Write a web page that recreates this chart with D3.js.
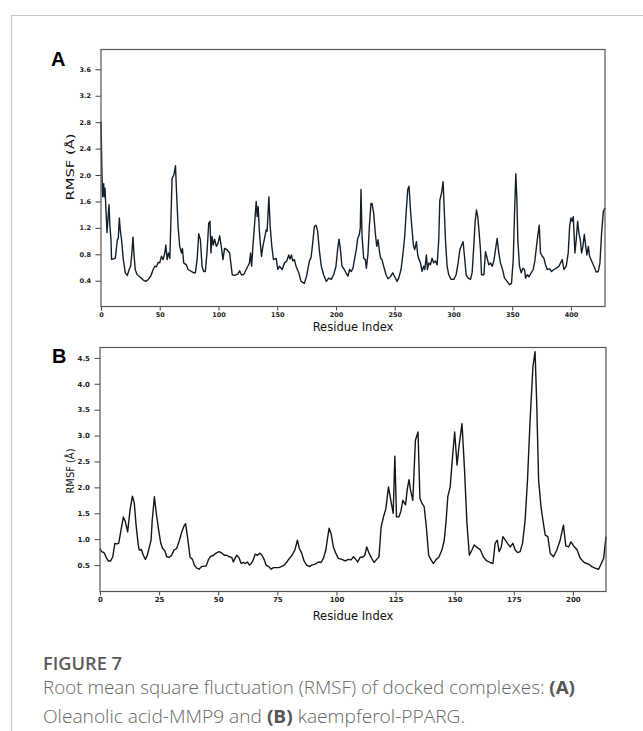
<!DOCTYPE html>
<html lang="en">
<head>
  <meta charset="utf-8">
  <script src="https://d3js.org/d3.v7.min.js"></script>
  <style>
    body { margin: 0; background: #fff; }
    svg { display: block; }
  </style>
</head>
<body>
<script>
  // RMSF traces

  // panel A: Oleanolic acid-MMP9
  const aResidue = [0,0.8,1.4,2.3,2.8,3.4,4.5,5.1,5.9,6.8,7.6,8.5,9,10.5,12.2,13.9,14.7,15.6,16.4,17.5,19,20.7,22.3,24,25.2,26.3,27.2,28,29.1,30.8,33,36,38.2,40.2,42.4,44.4,45.8,47.2,48.7,50,51.5,52.9,54.3,55.2,56.3,57.4,58.6,60.5,62,63.4,64.2,65.6,67,68.5,69.3,70.4,72.7,74.1,76.9,78.9,80.3,81.8,83.2,84.6,86,87.4,88.8,90.2,91.7,92.8,93.6,94.5,95.6,96.7,98.2,99.6,101,102.4,103.8,105.2,107.2,109.5,111.7,113.7,116.5,118,119.4,121.4,123.6,125,126.4,127.3,128.2,129.3,130.7,132.1,133,133.8,134.9,136.6,137.8,139.2,140.6,141.4,142.9,144,145.4,146.8,149.1,150.5,151.9,154.2,156.2,158.1,159.8,160.9,162.1,163.2,164.6,166,168.3,170.3,173.1,175.1,177.4,178.8,180.2,181.6,183,184.4,185.8,187.5,189.5,191.8,193.8,196,198,200,201.4,202.6,203.7,205.1,207.1,208.5,210.2,211.6,213.1,214.5,215.9,217.3,218.5,219.9,220.7,221.3,222.2,223.6,225,225.9,227.3,228.4,229.8,230.7,232.1,233.5,234.7,235.8,237.2,238.1,239.2,240.6,242.6,244.3,246.3,248.3,250,252,253.4,255.4,257.1,258.5,259.9,261.1,262.2,263.4,264.8,265.9,267,268.5,269.6,270.7,271.9,273.3,274.7,275.6,277,277.8,279,280.4,281.8,283.2,284.7,286.1,287.5,288.4,289.8,291.2,292.3,293.2,294.6,296,298,300.3,302.3,304,305.4,306.8,308.2,309.4,310.8,312.5,314.5,315.9,317.3,318.5,319.6,320.7,321.9,323,323.9,325.9,327.3,328.7,330.1,331.5,333,334.4,335.8,337.2,338.6,340,341.5,343.5,345.7,347.7,349.4,350.9,352,353.1,354,354.8,356.2,357.7,359.1,360.5,361.4,362.8,364.2,366.2,367.9,369.3,370.7,371.9,373,374.1,375.6,377,378.4,379.8,381.8,383.5,385.5,387.5,389.8,391.2,392.6,394,396,397.7,398.9,400,401.1,402,403.4,404.5,405.7,406.8,408,409.1,410.2,411.4,412.5,413.6,414.8,415.9,417.6,419.6,421.6,423.3,424.7,426.1,427.6,429];
  const aRmsf = [2.81,2.03,1.67,1.87,1.67,1.80,1.37,1.13,1.32,1.55,1.22,1.02,0.72,0.73,0.74,1.02,1.04,1.35,1.17,1.02,0.72,0.52,0.48,0.57,0.62,0.82,1.06,0.82,0.57,0.49,0.46,0.41,0.39,0.42,0.47,0.57,0.62,0.61,0.68,0.67,0.77,0.72,0.82,0.94,0.72,0.82,0.74,1.95,2.00,2.14,1.78,1.22,0.92,0.82,0.89,0.67,0.64,0.57,0.54,0.52,0.52,0.72,1.11,1.02,0.62,0.54,0.54,0.82,1.27,1.30,0.82,1.07,0.94,1.03,0.92,0.97,1.08,0.92,0.72,0.89,0.87,0.82,0.49,0.48,0.50,0.55,0.49,0.49,0.57,0.62,0.67,0.82,0.62,0.92,1.25,1.60,1.37,1.52,1.12,0.77,0.92,1.04,1.17,1.15,1.67,1.22,0.92,0.72,0.74,0.57,0.62,0.57,0.67,0.70,0.79,0.73,0.79,0.70,0.72,0.62,0.52,0.39,0.36,0.48,0.70,0.75,0.97,1.22,1.24,1.15,0.87,0.62,0.49,0.39,0.44,0.42,0.49,0.62,0.87,1.03,0.89,0.62,0.57,0.52,0.47,0.57,0.54,0.59,0.74,0.87,1.04,1.10,1.20,1.78,1.07,0.74,0.72,0.59,0.82,1.22,1.57,1.57,1.42,1.12,0.92,1.02,0.82,0.74,0.72,0.62,0.49,0.43,0.46,0.52,0.46,0.39,0.44,0.57,0.82,1.07,1.47,1.78,1.83,1.47,1.17,0.94,0.87,0.99,0.79,0.72,0.67,0.54,0.62,0.57,0.79,0.57,0.67,0.64,0.74,0.67,0.70,0.64,1.02,1.62,1.72,1.90,1.42,1.02,0.62,0.49,0.42,0.42,0.49,0.67,0.87,0.93,0.99,0.77,0.49,0.44,0.42,0.52,0.92,1.30,1.47,1.37,1.12,0.87,0.49,0.49,0.84,0.74,0.64,0.67,0.62,0.70,0.87,1.04,0.82,0.67,0.59,0.44,0.39,0.34,0.36,0.72,1.42,2.02,1.62,1.02,0.62,0.52,0.59,0.57,0.44,0.49,0.46,0.52,0.57,0.70,0.92,1.10,1.24,0.82,0.77,0.74,0.64,0.57,0.58,0.54,0.57,0.59,0.62,0.67,0.72,0.57,0.62,0.82,1.22,1.35,1.30,1.37,0.82,1.02,1.30,1.12,1.02,0.82,0.92,1.10,0.94,0.79,0.92,0.77,0.70,0.62,0.53,0.54,0.67,1.12,1.45,1.50];

  // panel B: kaempferol-PPARG
  const bResidue = [0,0.7,1.7,2.5,3.5,4.5,5.4,6.3,7.1,7.9,8.9,9.9,10.7,11.7,12.7,13.7,14.5,15.2,16.1,16.6,17.5,18.3,19.2,20,20.9,21.6,22.1,23,23.8,24.7,25.7,26.5,27.4,28.2,29.3,30.3,31.3,32.4,33.6,34.6,35.5,36.2,37,38.1,39.1,39.9,40.9,41.9,42.9,44,44.9,45.8,46.8,48,49.1,50.4,51.5,52.6,53.6,54.7,55.7,56.4,57.1,57.8,58.7,59.7,60.6,61.5,62.3,63.2,64,64.9,65.6,66.6,67.7,68.5,69.4,70.2,71.4,72.4,73.3,74.5,75.6,76.7,77.9,79,80.1,81.2,82.4,83.5,84.3,85.3,86.3,87.4,88.6,89.6,91,92.4,93.5,94.5,95.5,96.2,96.9,97.7,98.7,99.7,100.8,102.3,103.7,105,106.2,107.2,108.2,109,110,111.1,112,112.8,113.8,114.9,115.9,117,118,118.9,119.9,120.9,122,123,124,124.7,125.4,126.4,127.2,128.1,129.2,130,130.7,131.3,132.3,133.4,134.5,135.3,136.2,137.1,138,139,139.9,141,142.2,143.3,144.6,145.6,146.4,147.1,148.1,149.1,150,151,151.8,153.1,154.1,155.2,156.2,157.3,158.3,159.4,160.8,162.2,163.6,165,166.2,167.1,168,168.8,169.7,170.4,171.4,172.5,173.5,174.6,175.6,176.6,177.7,178.7,179.8,180.8,181.9,183.1,184,184.7,185.5,186.5,187.3,188.3,189.4,190.4,191.8,193.2,194.6,196,197,198.2,199.2,200.3,201.7,203.1,204.8,206.6,208,209.4,210.9,212,213,214];
  const bRmsf = [0.82,0.76,0.74,0.66,0.58,0.58,0.66,0.92,0.91,0.92,1.18,1.43,1.34,1.14,1.56,1.83,1.70,1.30,0.92,0.79,0.80,0.69,0.61,0.69,0.85,0.98,1.37,1.82,1.50,1.21,0.92,0.82,0.78,0.66,0.65,0.69,0.79,0.82,0.98,1.14,1.25,1.30,1.05,0.65,0.61,0.50,0.44,0.42,0.47,0.48,0.48,0.60,0.67,0.69,0.73,0.76,0.73,0.69,0.69,0.66,0.65,0.56,0.63,0.69,0.65,0.53,0.55,0.53,0.56,0.50,0.53,0.61,0.71,0.69,0.73,0.69,0.61,0.50,0.47,0.42,0.45,0.45,0.45,0.47,0.50,0.56,0.63,0.69,0.79,0.98,0.82,0.73,0.58,0.50,0.47,0.50,0.52,0.56,0.55,0.63,0.79,1.01,1.21,1.11,0.85,0.73,0.63,0.61,0.58,0.61,0.60,0.66,0.61,0.56,0.65,0.65,0.69,0.85,0.73,0.63,0.55,0.61,0.66,1.24,1.43,1.59,2.01,1.75,1.50,2.60,1.43,1.43,1.53,1.75,1.66,1.98,2.15,1.95,1.75,2.91,3.07,1.79,1.69,1.63,1.24,0.69,0.61,0.53,0.61,0.65,0.79,0.98,1.37,1.82,2.01,2.59,3.07,2.43,2.78,3.23,2.40,1.30,0.69,0.79,0.89,0.84,0.80,0.65,0.58,0.55,0.53,0.92,0.98,0.76,0.85,1.05,0.98,0.91,0.85,0.92,0.79,0.74,0.76,0.92,1.37,2.14,3.30,4.33,4.62,3.62,2.14,1.63,1.37,1.08,1.05,0.73,0.66,0.79,0.98,1.27,0.87,0.85,0.95,0.87,0.80,0.63,0.55,0.52,0.47,0.44,0.42,0.53,0.63,1.05];

  // ticks
  const aXTicks = [0, 50, 100, 150, 200, 250, 300, 350, 400];
  const aYTicks = [0.4, 0.8, 1.2, 1.6, 2.0, 2.4, 2.8, 3.2, 3.6];
  const bXTicks = [0, 25, 50, 75, 100, 125, 150, 175, 200];
  const bYTicks = [0.5, 1.0, 1.5, 2.0, 2.5, 3.0, 3.5, 4.0, 4.5];

  const W = 643, H = 731;

  const svg = d3.select("body").append("svg")
    .attr("width", W)
    .attr("height", H);

  // card edges
  svg.append("line").attr("x1", 11).attr("x2", W).attr("y1", 15.5).attr("y2", 15.5)
    .attr("stroke", "#c8c8c8").attr("stroke-width", 1.2);
  svg.append("line").attr("x1", 11.5).attr("x2", 11.5).attr("y1", 15).attr("y2", H)
    .attr("stroke", "#c8c8c8").attr("stroke-width", 1.2);

  function drawPanel(p) {
    const x = d3.scaleLinear().domain(p.xDomain).range([p.left, p.right]);
    const y = d3.scaleLinear().domain(p.yDomain).range([p.bottom, p.top]);

    const xAxis = svg.append("g")
      .attr("transform", "translate(0," + p.bottom + ")")
      .call(d3.axisBottom(x).tickValues(p.xTicks).tickSize(4).tickPadding(1.5)
        .tickFormat(d3.format("d")));
    const yAxis = svg.append("g")
      .attr("transform", "translate(" + p.left + ",0)")
      .call(d3.axisLeft(y).tickValues(p.yTicks).tickSize(5.5).tickPadding(4.5)
        .tickFormat(d3.format(".1f")));

    [xAxis, yAxis].forEach(g => {
      g.select(".domain").remove();
      g.selectAll("line").attr("stroke", "#444").attr("stroke-width", 1);
      g.selectAll("text")
        .attr("fill", "#222")
        .style("font-family", "DejaVu Sans")
        .style("font-size", p.tickFont + "px")
        .style("font-weight", "bold");
    });

    // the line
    const pts = d3.zip(p.xs, p.ys);
    svg.append("path")
      .datum(pts)
      .attr("fill", "none")
      .attr("stroke", p.color)
      .attr("stroke-width", 1.4)
      .attr("stroke-linejoin", "round")
      .attr("d", d3.line().x(d => x(d[0])).y(d => y(d[1])));

    // frame
    svg.append("rect")
      .attr("x", p.left).attr("y", p.top)
      .attr("width", p.right - p.left).attr("height", p.bottom - p.top)
      .attr("fill", "none").attr("stroke", "#555").attr("stroke-width", 1.2);

    svg.append("text")
      .attr("x", (p.left + p.right) / 2).attr("y", p.xLabelY)
      .attr("text-anchor", "middle")
      .style("font-family", "DejaVu Sans").style("font-size", "11.5px")
      .attr("fill", "#111")
      .text("Residue Index");

    svg.append("text")
      .attr("transform", "translate(" + p.yLabelX + "," + p.yLabelY + ") rotate(-90)")
      .attr("text-anchor", "middle")
      .attr("textLength", p.yLabelLen).attr("lengthAdjust", "spacingAndGlyphs")
      .style("font-family", "DejaVu Sans").style("font-size", "11px")
      .attr("fill", "#111")
      .text("RMSF (\u00C5)");

    svg.append("text")
      .attr("x", p.letterX).attr("y", p.letterY)
      .style("font-family", "Liberation Sans").style("font-size", "20px")
      .style("font-weight", "bold")
      .text(p.letter);
  }

  drawPanel({
    letter: "A", letterX: 51, letterY: 66,
    left: 101, right: 605, top: 49.5, bottom: 306.5,
    xDomain: [0, 429], yDomain: [0.01, 3.9],
    xTicks: aXTicks, yTicks: aYTicks, tickFont: 6.5,
    xs: aResidue, ys: aRmsf, color: "#13202c",
    xLabelY: 331, yLabelX: 74, yLabelY: 167, yLabelLen: 67
  });

  drawPanel({
    letter: "B", letterX: 52, letterY: 363,
    left: 100, right: 606, top: 347.5, bottom: 591.5,
    xDomain: [0, 214], yDomain: [-0.01, 4.7],
    xTicks: bXTicks, yTicks: bYTicks, tickFont: 7,
    xs: bResidue, ys: bRmsf, color: "#161616",
    xLabelY: 620, yLabelX: 74, yLabelY: 471, yLabelLen: 45
  });

  // caption
  svg.append("text")
    .attr("x", 43).attr("y", 670)
    .attr("textLength", 79).attr("lengthAdjust", "spacingAndGlyphs")
    .style("font-family", "Open Sans").style("font-size", "17.5px")
    .style("font-weight", "600")
    .attr("fill", "#5a5a5a")
    .text("FIGURE 7");

  const cap1 = svg.append("text")
    .attr("x", 43).attr("y", 694)
    .attr("textLength", 532).attr("lengthAdjust", "spacingAndGlyphs")
    .style("font-family", "Open Sans").style("font-size", "17.5px")
    .style("font-weight", "300")
    .attr("fill", "#666");
  cap1.append("tspan").text("Root mean square fluctuation (RMSF) of docked complexes: ");
  cap1.append("tspan").style("font-weight", "bold").attr("fill", "#555").text("(A)");

  const cap2 = svg.append("text")
    .attr("x", 43).attr("y", 722.5)
    .attr("textLength", 422).attr("lengthAdjust", "spacingAndGlyphs")
    .style("font-family", "Open Sans").style("font-size", "17.5px")
    .style("font-weight", "300")
    .attr("fill", "#666");
  cap2.append("tspan").text("Oleanolic acid-MMP9 and ");
  cap2.append("tspan").style("font-weight", "bold").attr("fill", "#555").text("(B)");
  cap2.append("tspan").text(" kaempferol-PPARG.");
</script>
</body>
</html>
